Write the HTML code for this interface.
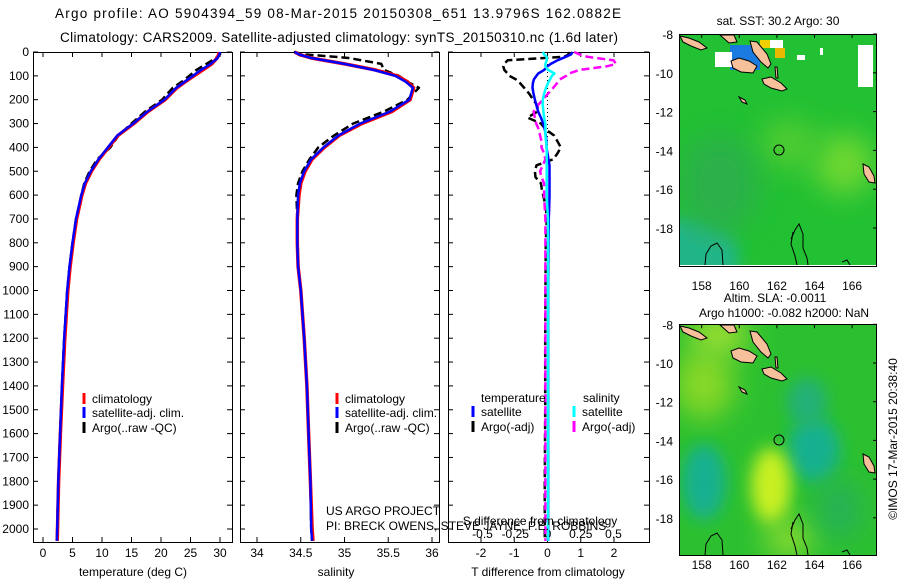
<!DOCTYPE html>
<html><head><meta charset="utf-8"><style>
html,body{margin:0;padding:0;background:#fff;}
svg{display:block;font-family:"Liberation Sans",sans-serif;}
text{fill:#000;}
</style></head><body>
<svg id="fig" width="900" height="580" viewBox="0 0 900 580">
<defs>
<filter id="blur8" x="-50%" y="-50%" width="200%" height="200%"><feGaussianBlur stdDeviation="8"/></filter>
<filter id="blur14" x="-50%" y="-50%" width="200%" height="200%"><feGaussianBlur stdDeviation="14"/></filter>
<clipPath id="mapclip"><rect x="1" y="1" width="196" height="230"/></clipPath>
<g id="land">
<polygon points="71,7 78,8 88,20 92,30 89,34 82,28 74,18" fill="#f5c09a" stroke="#000" stroke-width="1"/>
<polygon points="52,27 60,24 70,27 78,32 74,39 62,38 54,34" fill="#f5c09a" stroke="#000" stroke-width="1"/>
<polygon points="83,45 92,43 102,49 108,55 103,57 92,54 85,50" fill="#f5c09a" stroke="#000" stroke-width="1"/>
<polygon points="1,2 10,4 20,8 28,14 22,16 12,12 4,8" fill="#f5c09a" stroke="#000" stroke-width="1"/>
<polygon points="41,1 55,1 58,8 50,9" fill="#f5c09a" stroke="#000" stroke-width="1"/>
<polygon points="184,130 190,133 195,142 196,149 190,148 185,140" fill="#f5c09a" stroke="#000" stroke-width="1"/>
<polygon points="96,33 98,33 99,44 97,44" fill="#f5c09a" stroke="#000" stroke-width="1"/>
<polygon points="60,63 66,66 68,70 63,68" fill="#f5c09a" stroke="#000" stroke-width="1"/>
<polyline points="112,205 116,196 120,190 124,200 124,214 128,224 129,231" fill="none" stroke="#000" stroke-width="1"/>
<polyline points="114,198 112,210 116,222 118,231" fill="none" stroke="#000" stroke-width="1"/>
<polyline points="26,231 27,220 32,212 38,209 43,216 44,231" fill="none" stroke="#000" stroke-width="1"/>
<polyline points="163,228 168,226 171,231" fill="none" stroke="#000" stroke-width="1"/>
</g>
</defs>

<text x="338" y="18" font-size="13.5" text-anchor="middle" textLength="566">Argo profile: AO 5904394_59 08-Mar-2015 20150308_651 13.9796S 162.0882E</text>
<text x="339" y="42" font-size="13.5" text-anchor="middle" textLength="558">Climatology: CARS2009. Satellite-adjusted climatology: synTS_20150310.nc (1.6d later)</text>

<g id="charts"></g>

<g transform="translate(679,34)">
<g clip-path="url(#mapclip)">
<rect x="0" y="0" width="198" height="232" fill="#22c033"/>
<ellipse cx="10" cy="225" rx="50" ry="42" fill="#20b58a" filter="url(#blur8)"/>
<ellipse cx="165" cy="130" rx="30" ry="30" fill="#70d830" filter="url(#blur14)"/>
<ellipse cx="110" cy="110" rx="30" ry="25" fill="#50cc30" filter="url(#blur14)"/>
<ellipse cx="40" cy="150" rx="40" ry="50" fill="#2bb048" filter="url(#blur14)"/>
<rect x="51" y="11" width="30" height="25" fill="#1a7ae0"/>
<rect x="81" y="6" width="12" height="8" fill="#f0d000"/>
<rect x="96" y="14" width="10" height="10" fill="#e8b800"/>
<rect x="36" y="18" width="17" height="15" fill="#fff"/>
<rect x="179" y="11" width="15" height="42" fill="#fff"/>
<rect x="91" y="6" width="13" height="8" fill="#fff"/>
<rect x="118" y="21" width="8" height="5" fill="#fff"/>
<rect x="141" y="14" width="3" height="7" fill="#fff"/>
<use href="#land"/>
<circle cx="100" cy="116" r="5" fill="none" stroke="#000" stroke-width="1"/>
</g>
<rect x="0.5" y="0.5" width="197" height="232" fill="none" stroke="#000" stroke-width="1"/>
</g>
<text x="778" y="25" font-size="12" text-anchor="middle">sat. SST: 30.2 Argo: 30</text>

<g transform="translate(679,324)">
<g clip-path="url(#mapclip)">
<rect x="0" y="0" width="198" height="232" fill="#2cc030"/>
<ellipse cx="25" cy="60" rx="30" ry="35" fill="#88d828" filter="url(#blur14)"/>
<ellipse cx="40" cy="10" rx="30" ry="20" fill="#a0e030" filter="url(#blur14)"/>
<ellipse cx="25" cy="158" rx="22" ry="38" fill="#18b090" filter="url(#blur8)"/>
<ellipse cx="135" cy="126" rx="26" ry="32" fill="#18b090" filter="url(#blur8)"/>
<ellipse cx="128" cy="78" rx="20" ry="24" fill="#22b078" filter="url(#blur8)"/>
<ellipse cx="92" cy="162" rx="20" ry="38" fill="#c8f020" filter="url(#blur8)"/>
<ellipse cx="110" cy="215" rx="25" ry="18" fill="#90dc30" filter="url(#blur14)"/>
<ellipse cx="160" cy="185" rx="22" ry="30" fill="#28b058" filter="url(#blur14)"/>
<use href="#land"/>
<circle cx="100" cy="116" r="5" fill="none" stroke="#000" stroke-width="1"/>
</g>
<rect x="0.5" y="0.5" width="197" height="231" fill="none" stroke="#000" stroke-width="1"/>
</g>
<text x="775" y="302" font-size="12" text-anchor="middle">Altim. SLA: -0.0011</text>
<text x="784" y="317" font-size="12" text-anchor="middle">Argo h1000: -0.082 h2000: NaN</text>
<text transform="translate(897,439) rotate(-90)" font-size="12" text-anchor="middle">©IMOS 17-Mar-2015 20:38:40</text>
<g id="mapaxes"></g>
</svg>
<script>
const depth = [0,10,25,50,75,100,125,150,200,250,300,350,400,450,500,550,600,700,800,900,1000,1200,1400,1600,1800,2000,2050];
const tempClim = [29.8,29.8,29.5,28.6,27.1,25.6,24.1,22.7,20.7,17.8,15.4,12.7,11.1,9.5,8.2,7.2,6.6,5.7,5.1,4.6,4.2,3.7,3.3,2.95,2.65,2.45,2.4];
const tempSat = [30.0,29.9,29.6,28.4,26.8,25.4,24.0,22.6,20.6,17.7,15.3,12.6,11.0,9.4,8.1,7.1,6.5,5.6,5.0,4.5,4.1,3.6,3.2,2.9,2.6,2.4,2.35];
const tempArgo = [30.0,30.0,29.3,27.7,26.0,24.8,23.5,22.0,20.2,17.3,15.0,12.8,11.4,9.2,7.9,7.0,6.5,5.6,5.0,4.5,4.1,3.6,3.2,2.9,2.6,2.4,2.35];
const salClim = [34.43,34.48,34.62,35.00,35.35,35.60,35.72,35.79,35.75,35.54,35.20,34.94,34.77,34.63,34.55,34.50,34.48,34.46,34.46,34.47,34.50,34.54,34.57,34.59,34.61,34.63,34.64];
const salSat = [34.43,34.48,34.62,35.00,35.33,35.58,35.70,35.78,35.74,35.52,35.18,34.93,34.76,34.62,34.54,34.49,34.47,34.46,34.46,34.47,34.50,34.54,34.57,34.59,34.61,34.62,34.63];
const salArgo = [34.42,34.55,35.05,35.42,35.45,35.62,35.72,35.85,35.72,35.45,35.10,34.88,34.70,34.60,34.52,34.47,34.45,34.46,34.46,34.47,34.50,34.54,34.57,34.59,34.61,34.62,34.63];
const diffDepth = [0,10,20,35,50,60,75,90,100,115,130,150,175,200,225,250,275,300,325,350,375,400,425,450,475,500,525,550,575,600,650,700,800,1000,1200,1500,1800,2000,2050];
const tDiffSat = [0.75,0.71,0.55,0.3,0.1,0,-0.1,-0.28,-0.33,-0.41,-0.44,-0.45,-0.42,-0.38,-0.33,-0.28,-0.2,-0.13,-0.08,-0.05,-0.03,-0.03,0,0.03,0.06,0.06,0.06,0.06,0.06,0.06,0.05,0.04,0.03,0.02,0.02,0.02,0.02,0.02,0.02];
const tDiffArgo = [0.62,0.65,0.5,-1.2,-1.3,-1.33,-1.3,-1.2,-1.15,-0.95,-0.83,-0.7,-0.55,-0.43,-0.3,-0.3,-0.6,-0.2,-0.05,0.2,0.3,0.4,0.3,0.17,-0.33,-0.38,-0.36,-0.2,-0.17,-0.13,-0.05,-0.02,-0.05,-0.06,-0.07,-0.07,-0.08,-0.08,-0.08];
const sDiffSat = [-0.04,-0.03,-0.01,-0.01,-0.02,-0.02,0.0,0.05,0.03,0.015,0,-0.015,-0.03,-0.04,-0.04,-0.035,-0.03,-0.02,-0.02,-0.02,-0.015,-0.01,-0.01,-0.01,-0.01,-0.01,-0.01,-0.01,-0.01,-0.01,-0.005,0,0,0,0,0,0,0,0];
const sDiffArgo = [0.2,0.24,0.3,0.5,0.52,0.45,0.24,0.16,0.14,0.09,0.07,0.04,0.0,-0.04,-0.08,-0.11,-0.1,-0.09,-0.07,-0.06,-0.05,-0.05,-0.03,-0.02,-0.04,-0.06,-0.05,-0.03,-0.03,-0.03,-0.025,-0.02,-0.02,-0.02,-0.02,-0.02,-0.02,-0.02,-0.02];
const depthTicks = [0,100,200,300,400,500,600,700,800,900,1000,1100,1200,1300,1400,1500,1600,1700,1800,1900,2000];
const tempTicks = [0,5,10,15,20,25,30];
const salTicks = [34,34.5,35,35.5,36];
const tDiffTicks = [-2,-1,0,1,2];
const sDiffTicks = [-0.5,-0.25,0,0.25,0.5];
const sDiffTickLabels = ["-0.5","-0.25","0","0.25","0.5"];
const mapLatTicks = [-8,-10,-12,-14,-16,-18];
const mapLonTicks = [158,160,162,164,166];

const NS='http://www.w3.org/2000/svg';
const root=document.getElementById('charts');
function mk(tag,attrs,parent){const e=document.createElementNS(NS,tag);for(const k in attrs)e.setAttribute(k,attrs[k]);(parent||root).appendChild(e);return e;}
const TOP=52,BOT=542;
const yD=d=>52+0.2385*d;
const xT=t=>43+5.9*t;
const xS=s=>257+87.5*(s-34);
const xTd=t=>547.5+33.25*t;
const xSd=s=>548+131*s;

function frame(x0,x1,name){
  const r=mk('rect',{x:x0+0.5,y:TOP+0.5,width:x1-x0,height:BOT-TOP,fill:'none',stroke:'#000','stroke-width':1});
  
  
  depthTicks.forEach(d=>{const y=yD(d);
    mk('line',{x1:x0,x2:x0+5,y1:y,y2:y,stroke:'#000'});
    mk('line',{x1:x1-5,x2:x1,y1:y,y2:y,stroke:'#000'});});
}
function xticks(ticks,fx,labels,ly,name){
  ticks.forEach((t,i)=>{const x=fx(t);
    mk('line',{x1:x,x2:x,y1:TOP,y2:TOP+5,stroke:'#000'});
    mk('line',{x1:x,x2:x,y1:BOT-5,y2:BOT,stroke:'#000'});
    const tx=mk('text',{x:x,y:ly,'font-size':12,'text-anchor':'middle'});tx.textContent=labels?labels[i]:String(t);
    
    });
}
function line(xs,ds,fx,color,w,dash,name){
  let d='';xs.forEach((v,i)=>{d+=(i?'L':'M')+fx(v).toFixed(1)+','+yD(ds[i]).toFixed(1);});
  const p=mk('path',{d:d,fill:'none',stroke:color,'stroke-width':w,'stroke-linejoin':'round'});
  if(dash)p.setAttribute('stroke-dasharray',dash);
  
  
}
function txt(x,y,s,name,anchor){const t=mk('text',{x:x,y:y,'font-size':12,'text-anchor':anchor||'start'});t.textContent=s;
  
  return t;}
function lbar(x,y,color,name){const l=mk('line',{x1:x,x2:x,y1:y-11,y2:y,stroke:color,'stroke-width':3});
  
  }

depthTicks.forEach(d=>{txt(29,yD(d)+4,String(d),'depth-tick-label','end');});

frame(33,232,'temperature-panel');
xticks(tempTicks,xT,null,557,'temperature-tick-label');
line(tempArgo,depth,xT,'#000',2.5,'8,4','temp-argo-line');
line(tempClim,depth,xT,'#ff0000',3.5,null,'temp-climatology-line');
line(tempSat,depth,xT,'#0000ff',2.5,null,'temp-satellite-line');
txt(133,576,'temperature (deg C)','temperature-axis-title','middle');
lbar(84,404,'#ff0000','legend-climatology-swatch');txt(92,403,'climatology','legend-climatology');
lbar(84,418,'#0000ff','legend-satellite-swatch');txt(92,417,'satellite-adj. clim.','legend-satellite');
lbar(84,433,'#000','legend-argo-swatch');txt(92,432,'Argo(..raw -QC)','legend-argo');

frame(240,439,'salinity-panel');
xticks(salTicks,xS,null,557,'salinity-tick-label');
line(salArgo,depth,xS,'#000',2.5,'8,4','sal-argo-line');
line(salClim,depth,xS,'#ff0000',3.5,null,'sal-climatology-line');
line(salSat,depth,xS,'#0000ff',2.5,null,'sal-satellite-line');
txt(336,576,'salinity','salinity-axis-title','middle');
lbar(337,404,'#ff0000','legend2-climatology-swatch');txt(345,403,'climatology','legend2-climatology');
lbar(337,418,'#0000ff','legend2-satellite-swatch');txt(345,417,'satellite-adj. clim.','legend2-satellite');
lbar(337,433,'#000','legend2-argo-swatch');txt(345,432,'Argo(..raw -QC)','legend2-argo');

frame(448,649,'difference-panel');
xticks(tDiffTicks,xTd,null,557,'tdiff-tick-label');
sDiffTicks.forEach((s,i)=>{txt(xSd(s),538,sDiffTickLabels[i],'sdiff-tick-label','middle');});
mk('line',{x1:xTd(0),x2:xTd(0),y1:TOP,y2:BOT,stroke:'#000','stroke-dasharray':'1,3'});
line(tDiffArgo,diffDepth,xTd,'#000',2.5,'8,4','tdiff-argo-line');
line(sDiffArgo,diffDepth,xSd,'#ff00ff',2.5,'8,4','sdiff-argo-line');
line(tDiffSat,diffDepth,xTd,'#0000ff',2.5,null,'tdiff-satellite-line');
line(sDiffSat,diffDepth,xSd,'#00ffff',2.5,null,'sdiff-satellite-line');
txt(548,576,'T difference from climatology','tdiff-axis-title','middle');
txt(540,525,'S difference from climatology','sdiff-axis-title','middle');
txt(481,402,'temperature','legend3-temperature-header');
txt(583,402,'salinity','legend3-salinity-header');
lbar(473,417,'#0000ff','legend3-tsat-swatch');txt(481,416,'satellite','legend3-tsat');
lbar(574,417,'#00ffff','legend3-ssat-swatch');txt(582,416,'satellite','legend3-ssat');
lbar(473,432,'#000','legend3-targo-swatch');txt(481,431,'Argo(-adj)','legend3-targo');
lbar(574,432,'#ff00ff','legend3-sargo-swatch');txt(582,431,'Argo(-adj)','legend3-sargo');
txt(326,515,'US ARGO PROJECT','project-label');
txt(326,530,'PI: BRECK OWENS, STEVE JAYNE, P.E. ROBBINS','pi-label');

const ma=document.getElementById('mapaxes');
[[34,19.4,290],[324.3,19.35,569]].forEach(([y0,sy,ly])=>{
  mapLatTicks.forEach(v=>{const y=y0+(-8-v)*sy;
    const t=mk('text',{x:673,y:y+5,'font-size':12,'text-anchor':'end'},ma);t.textContent=String(v);
    
    
    mk('line',{x1:873,x2:877,y1:y,y2:y,stroke:'#000'},ma);});
  mapLonTicks.forEach(v=>{const x=701.7+(v-158)*18.8;
    const t=mk('text',{x:x,y:ly,'font-size':12,'text-anchor':'middle'},ma);t.textContent=String(v);
    
    
    mk('line',{x1:x,x2:x,y1:y0,y2:y0+4,stroke:'#000'},ma);});
});
</script>
</body></html>
